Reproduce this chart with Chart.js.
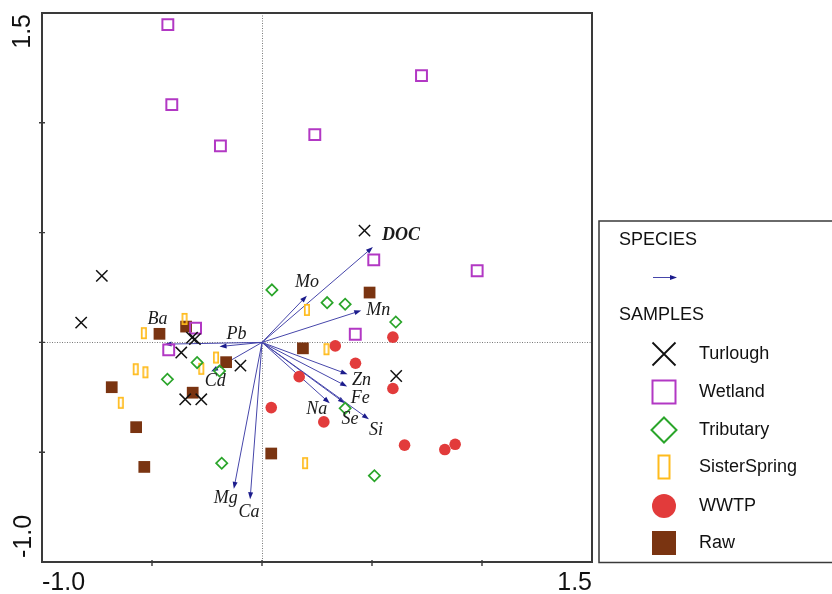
<!DOCTYPE html>
<html>
<head>
<meta charset="utf-8">
<script src="https://cdn.jsdelivr.net/npm/chart.js@4.4.1/dist/chart.umd.min.js"></script>
<style>
  html, body { margin: 0; padding: 0; background: #fff; }
  #wrap { width: 832px; height: 594px; position: relative; overflow: hidden; }
</style>
</head>
<body>
<div id="wrap"><canvas id="biplot" width="832" height="594"></canvas></div>
<script>
// Axis range and labels
const axisMin = -1.0;
const axisMax = 1.5;
const xTickLabels = ['-1.0', '1.5'];
const yTickLabels = ['-1.0', '1.5'];
const minorTicks = [-0.5, 0, 0.5, 1.0];

// Sample scores by site type
const turlough = [[-0.728, 0.303], [-0.822, 0.090], [-0.318, 0.022], [-0.305, 0.015], [-0.367, -0.046],
                  [-0.098, -0.106], [-0.349, -0.259], [-0.276, -0.259], [0.466, 0.509], [0.610, -0.153]];
const wetland = [[-0.428, 1.447], [-0.410, 1.083], [-0.189, 0.895], [0.725, 1.215], [0.240, 0.946],
                 [0.508, 0.376], [0.978, 0.326], [0.424, 0.037], [-0.302, 0.065], [-0.424, -0.034]];
const tributary = [[0.045, 0.239], [0.296, 0.181], [0.378, 0.174], [0.608, 0.093], [0.378, -0.300],
                   [0.511, -0.607], [-0.183, -0.550], [-0.295, -0.092], [-0.193, -0.130], [-0.430, -0.168]];
const sisterSpring = [[-0.537, 0.042], [-0.352, 0.107], [-0.209, -0.069], [-0.276, -0.120], [-0.574, -0.122],
                      [-0.530, -0.136], [-0.642, -0.275], [0.204, 0.148], [0.293, -0.031], [0.196, -0.550]];
const wwtp = [[0.595, 0.024], [0.333, -0.016], [0.425, -0.095], [0.169, -0.156], [0.595, -0.210],
              [0.281, -0.362], [0.042, -0.297], [0.648, -0.468], [0.831, -0.488], [0.878, -0.464]];
const raw = [[0.489, 0.227], [0.186, -0.027], [-0.466, 0.039], [-0.345, 0.072], [-0.163, -0.090],
             [-0.315, -0.229], [-0.683, -0.204], [-0.572, -0.386], [-0.535, -0.567], [0.042, -0.506]];

// Species (environmental variable) vectors
const speciesNames = ['DOC', 'Mo', 'Mn', 'Zn', 'Fe', 'Se', 'Si', 'Na', 'Ba', 'Pb', 'Cd', 'Mg', 'Ca'];
const speciesX = [0.504, 0.204, 0.451, 0.389, 0.387, 0.377, 0.486, 0.308, -0.443, -0.193, -0.231, -0.128, -0.054];
const speciesY = [0.434, 0.213, 0.145, -0.145, -0.201, -0.277, -0.350, -0.277, -0.008, -0.019, -0.133, -0.667, -0.714];
// label offsets from arrow tips, in pixels
const labelOffsets = [[28, -12], [0, -13], [17, 0], [14, 6], [13, 12], [5, 16], [7, 11],
                      [-13, 6], [-7, -25], [17, -12], [4, 10], [-8, 9], [-1, 13]];

const toPts = arr => arr.map(p => ({ x: p[0], y: p[1] }));

const COL = {
  turlough: '#111111',
  wetland: '#b238c4',
  tributary: '#2aa52a',
  sister: '#ffbb1c',
  wwtp: '#e23b3b',
  raw: '#7a3411',
  arrow: '#4646aa',
  head: '#1c1c8c',
  frame: '#3a3a3a'
};

// tall open rectangle used for the SisterSpring marker
function barMarker(w, h, lw, color) {
  const c = document.createElement('canvas');
  c.width = w + 2; c.height = h + 2;
  const g = c.getContext('2d');
  g.strokeStyle = color; g.lineWidth = lw;
  g.strokeRect(1 + lw / 2, 1 + lw / 2, w - lw, h - lw);
  return c;
}

const decor = {
  id: 'biplotDecor',
  beforeDatasetsDraw(chart) {
    const { ctx, chartArea: a, scales: { x, y } } = chart;
    const x0 = x.getPixelForValue(0), y0 = y.getPixelForValue(0);
    ctx.save();
    // dotted zero lines
    ctx.strokeStyle = '#7a7a7a';
    ctx.lineWidth = 1;
    ctx.setLineDash([1, 1.5]);
    ctx.beginPath();
    ctx.moveTo(Math.round(x0) + 0.5, a.top); ctx.lineTo(Math.round(x0) + 0.5, a.bottom);
    ctx.moveTo(a.left, Math.round(y0) + 0.5); ctx.lineTo(a.right, Math.round(y0) + 0.5);
    ctx.stroke();
    ctx.setLineDash([]);

    // species arrows
    speciesNames.forEach((name, i) => {
      const tx = x.getPixelForValue(speciesX[i]);
      const ty = y.getPixelForValue(speciesY[i]);
      const ang = Math.atan2(ty - y0, tx - x0);
      ctx.strokeStyle = COL.arrow;
      ctx.lineWidth = 1;
      ctx.beginPath();
      ctx.moveTo(x0, y0);
      ctx.lineTo(tx - Math.cos(ang) * 3, ty - Math.sin(ang) * 3);
      ctx.stroke();
      ctx.fillStyle = COL.head;
      ctx.beginPath();
      ctx.moveTo(tx, ty);
      ctx.lineTo(tx - Math.cos(ang) * 7 + Math.sin(ang) * 2.5, ty - Math.sin(ang) * 7 - Math.cos(ang) * 2.5);
      ctx.lineTo(tx - Math.cos(ang) * 7 - Math.sin(ang) * 2.5, ty - Math.sin(ang) * 7 + Math.cos(ang) * 2.5);
      ctx.closePath();
      ctx.fill();
    });
    ctx.restore();
  },
  afterDatasetsDraw(chart) {
    const { ctx, chartArea: a, scales: { x, y } } = chart;
    ctx.save();
    // species labels
    ctx.fillStyle = '#1a1a1a';
    ctx.textAlign = 'center';
    ctx.textBaseline = 'middle';
    speciesNames.forEach((name, i) => {
      const tx = x.getPixelForValue(speciesX[i]);
      const ty = y.getPixelForValue(speciesY[i]);
      ctx.font = (name === 'DOC' ? 'italic bold ' : 'italic ') + '18px "Liberation Serif", "Times New Roman", serif';
      ctx.fillText(name, tx + labelOffsets[i][0], ty + labelOffsets[i][1]);
    });

    // frame
    ctx.strokeStyle = COL.frame;
    ctx.lineWidth = 2;
    ctx.strokeRect(a.left, a.top, a.right - a.left, a.bottom - a.top);

    // tick marks across the left and bottom axes
    ctx.lineWidth = 1.4;
    ctx.beginPath();
    minorTicks.forEach(v => {
      const px = x.getPixelForValue(v);
      ctx.moveTo(px, a.bottom - 2); ctx.lineTo(px, a.bottom + 4);
      const py = y.getPixelForValue(v);
      ctx.moveTo(a.left - 3, py); ctx.lineTo(a.left + 3, py);
    });
    ctx.stroke();

    // end tick labels
    ctx.fillStyle = '#111';
    ctx.font = '25px "Liberation Sans", Arial, sans-serif';
    ctx.textBaseline = 'middle';
    ctx.textAlign = 'left';
    ctx.fillText(xTickLabels[0], x.getPixelForValue(axisMin), 583);
    ctx.textAlign = 'right';
    ctx.fillText(xTickLabels[1], x.getPixelForValue(axisMax), 583);

    ctx.save();
    ctx.translate(23, y.getPixelForValue(axisMax) + 1);
    ctx.rotate(-Math.PI / 2);
    ctx.textAlign = 'right';
    ctx.fillText(yTickLabels[1], 0, 0);
    ctx.restore();
    ctx.save();
    ctx.translate(24, y.getPixelForValue(axisMin) - 4);
    ctx.rotate(-Math.PI / 2);
    ctx.textAlign = 'left';
    ctx.fillText(yTickLabels[0], 0, 0);
    ctx.restore();

    // legend panel
    const lx = 599, ly = 221, lb = 562.5;
    ctx.strokeStyle = COL.frame;
    ctx.lineWidth = 1.5;
    ctx.strokeRect(lx, ly, 260, lb - ly);

    ctx.fillStyle = '#111';
    ctx.font = '18px "Liberation Sans", Arial, sans-serif';
    ctx.textAlign = 'left';
    ctx.textBaseline = 'middle';
    ctx.fillText('SPECIES', 619, 240);
    ctx.fillText('SAMPLES', 619, 315);

    // legend arrow
    ctx.strokeStyle = COL.arrow; ctx.lineWidth = 1;
    ctx.beginPath(); ctx.moveTo(653, 277.5); ctx.lineTo(671, 277.5); ctx.stroke();
    ctx.fillStyle = COL.head;
    ctx.beginPath(); ctx.moveTo(677, 277.5); ctx.lineTo(670, 275); ctx.lineTo(670, 280); ctx.closePath(); ctx.fill();

    const cx = 664;
    const rows = [['Turlough', 354], ['Wetland', 392], ['Tributary', 430], ['SisterSpring', 467], ['WWTP', 506], ['Raw', 543]];
    const s = 11.5;
    // Turlough
    ctx.strokeStyle = COL.turlough; ctx.lineWidth = 1.8;
    ctx.beginPath();
    ctx.moveTo(cx - s, rows[0][1] - s); ctx.lineTo(cx + s, rows[0][1] + s);
    ctx.moveTo(cx + s, rows[0][1] - s); ctx.lineTo(cx - s, rows[0][1] + s);
    ctx.stroke();
    // Wetland
    ctx.strokeStyle = COL.wetland; ctx.lineWidth = 2;
    ctx.strokeRect(cx - s, rows[1][1] - s, 2 * s, 2 * s);
    // Tributary
    ctx.strokeStyle = COL.tributary; ctx.lineWidth = 2;
    ctx.beginPath();
    ctx.moveTo(cx, rows[2][1] - s - 1); ctx.lineTo(cx + s + 1, rows[2][1]);
    ctx.lineTo(cx, rows[2][1] + s + 1); ctx.lineTo(cx - s - 1, rows[2][1]); ctx.closePath();
    ctx.stroke();
    // SisterSpring
    ctx.strokeStyle = COL.sister; ctx.lineWidth = 2;
    ctx.strokeRect(cx - 5.5, rows[3][1] - s, 11, 2 * s);
    // WWTP
    ctx.fillStyle = COL.wwtp;
    ctx.beginPath(); ctx.arc(cx, rows[4][1], 12, 0, Math.PI * 2); ctx.fill();
    // Raw
    ctx.fillStyle = COL.raw;
    ctx.fillRect(cx - 12, rows[5][1] - 12, 24, 24);

    ctx.fillStyle = '#111';
    rows.forEach(r => ctx.fillText(r[0], 699, r[1]));
    ctx.restore();
  }
};

new Chart(document.getElementById('biplot'), {
  type: 'scatter',
  data: {
    datasets: [
      { label: 'Turlough', data: toPts(turlough), pointStyle: 'crossRot', radius: 8,
        borderColor: COL.turlough, borderWidth: 1.5, backgroundColor: COL.turlough },
      { label: 'Wetland', data: toPts(wetland), pointStyle: 'rect', radius: 7.7,
        borderColor: COL.wetland, borderWidth: 2, backgroundColor: 'rgba(255,255,255,0)' },
      { label: 'Tributary', data: toPts(tributary), pointStyle: 'rectRot', radius: 5.6,
        borderColor: COL.tributary, borderWidth: 1.7, backgroundColor: 'rgba(255,255,255,0)' },
      { label: 'SisterSpring', data: toPts(sisterSpring), pointStyle: barMarker(6, 12, 1.7, COL.sister) },
      { label: 'WWTP', data: toPts(wwtp), pointStyle: 'circle', radius: 5.8,
        borderWidth: 0, backgroundColor: COL.wwtp },
      { label: 'Raw', data: toPts(raw), pointStyle: 'rect', radius: 8.3,
        borderWidth: 0, backgroundColor: COL.raw }
    ]
  },
  options: {
    responsive: false,
    animation: false,
    devicePixelRatio: 1,
    layout: { padding: { left: 42, right: 240, top: 13, bottom: 32 } },
    scales: {
      x: { type: 'linear', min: axisMin, max: axisMax, display: false },
      y: { type: 'linear', min: axisMin, max: axisMax, display: false }
    },
    plugins: { legend: { display: false }, tooltip: { enabled: false } },
    events: []
  },
  plugins: [decor]
});
</script>
</body>
</html>
